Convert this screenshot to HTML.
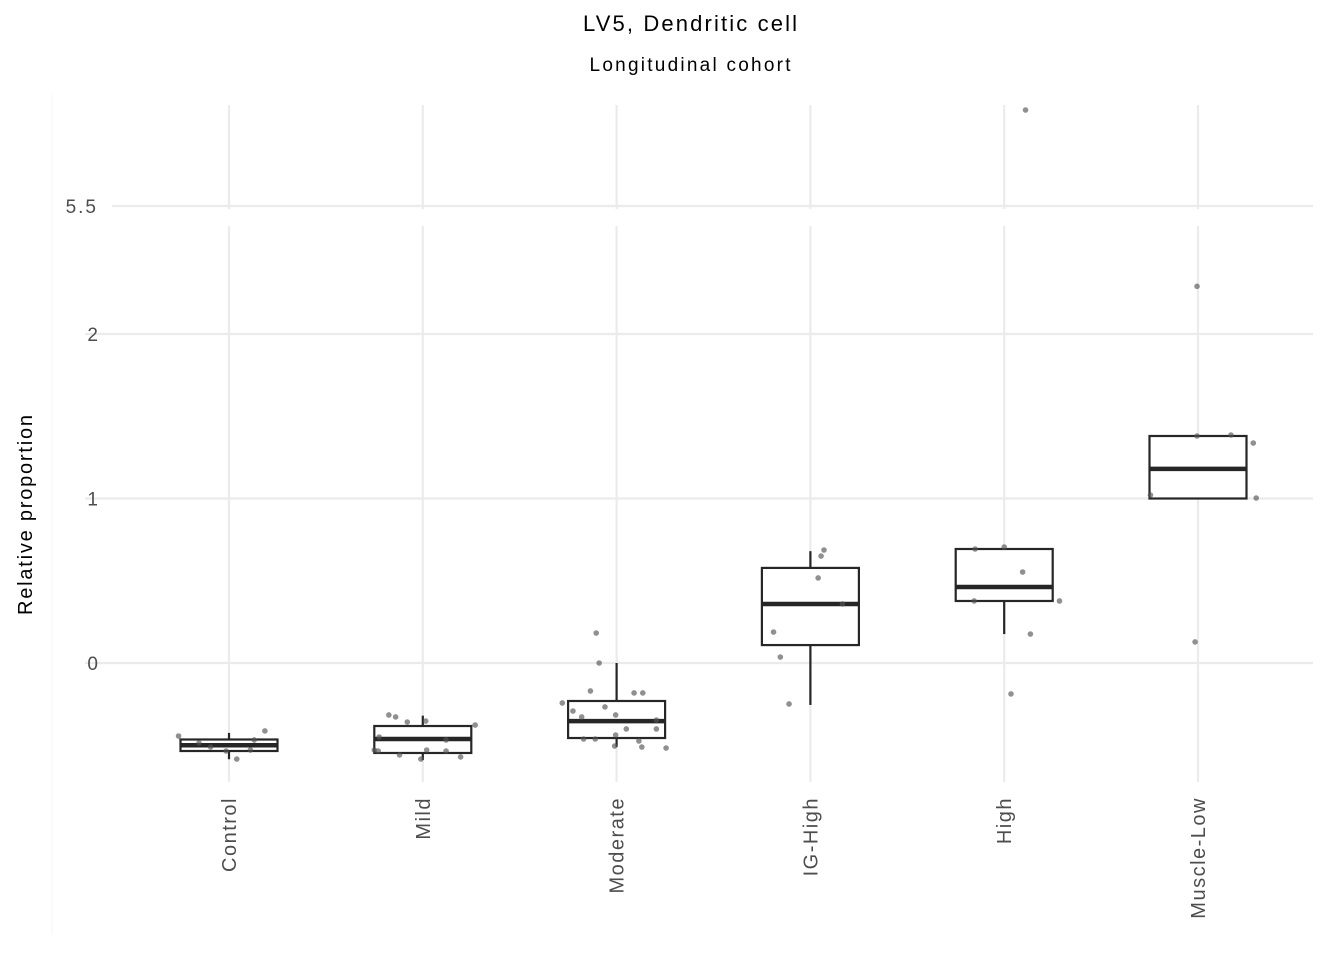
<!DOCTYPE html>
<html><head><meta charset="utf-8"><style>
body{margin:0;background:#fff}
svg text{font-family:"Liberation Sans",Arial,sans-serif}
</style></head><body>
<svg id="c" width="1344" height="960" xmlns="http://www.w3.org/2000/svg">
<text x="690" y="31" text-anchor="middle" font-size="22" textLength="214" fill="#000">LV5, Dendritic cell</text>
<text x="690" y="71" text-anchor="middle" font-size="19" textLength="201" fill="#000">Longitudinal cohort</text>
<line x1="52" y1="95" x2="52" y2="935" stroke="#f6f6f6" stroke-width="1"/>
<text transform="translate(32,515) rotate(-90)" text-anchor="middle" font-size="20" textLength="200" fill="#000">Relative proportion</text>
<g id="grid"></g><g id="marks"></g>
</svg>
<script>
const categories=["Control","Mild","Moderate","IG-High","High","Muscle-Low"];
const lowTicks=[0,1,2];
const lowTickLabels=["0","1","2"];
const highTicks=[5.5];
const highTickLabels=["5.5"];
const q1=[-0.535,-0.547,-0.456,0.109,0.377,1.0];
const med=[-0.50,-0.462,-0.353,0.359,0.462,1.18];
const q3=[-0.465,-0.383,-0.231,0.578,0.693,1.38];
const wlo=[-0.585,-0.59,-0.51,-0.255,0.176,1.0];
const whi=[-0.425,-0.32,0,0.68,0.693,1.38];
const ptCat=[0,0,0,0,0,0,0,0, 1,1,1,1,1,1,1,1,1,1,1,1,1,1, 2,2,2,2,2,2,2,2,2,2,2,2,2,2,2,2,2,2,2,2, 3,3,3,3,3,3,3, 4,4,4,4,4,4,4,4, 5,5,5,5,5,5,5];
const ptJit=[-0.52,-0.31,0.37,0.08,0.26,0.22,-0.03,-0.19, -0.5,-0.45,-0.35,-0.28,-0.16,0.03,-0.46,-0.24,-0.02,0.04,0.24,0.39,0.54,0.24, -0.21,-0.18,-0.27,-0.56,-0.45,-0.36,-0.12,-0.01,0.18,0.27,0.41,0.41,0.23,-0.02,0.26,0.51,-0.34,-0.22,-0.01,0.1, 0.14,0.11,0.08,0.33,-0.38,-0.31,-0.22, -0.3,0,0.19,-0.31,0.57,0.27,0.07,0.22, -0.01,0.34,0.57,-0.49,0.6,-0.03,-0.01];
const ptVal=[-0.444,-0.486,-0.413,-0.584,-0.468,-0.529,-0.535,-0.511, -0.529,-0.45,-0.316,-0.328,-0.359,-0.353,-0.535,-0.559,-0.584,-0.529,-0.535,-0.571,-0.377,-0.468, 0.182,0,-0.17,-0.243,-0.292,-0.328,-0.267,-0.316,-0.182,-0.182,-0.347,-0.401,-0.474,-0.505,-0.511,-0.517,-0.462,-0.462,-0.438,-0.401, 0.687,0.65,0.517,0.359,0.188,0.036,-0.249, 0.693,0.705,0.553,0.377,0.377,0.176,-0.188,5.9, 2.29,1.386,1.337,1.021,1.003,0.128,1.38];
const NS="http://www.w3.org/2000/svg";
const BREAK=4;
function y(v){return v<BREAK?663-v*164.5:206-(v-5.5)*240;}
function x(i){return 229+i*193.8;}
const bw=97;
function mk(p,tag,a){const e=document.createElementNS(NS,tag);for(const k in a)e.setAttribute(k,a[k]);p.appendChild(e);return e;}
const g=document.getElementById('grid'),m=document.getElementById('marks');
lowTicks.forEach((t,i)=>{
 const l=mk(g,'line',{x1:85,x2:1313,y1:y(t),y2:y(t),stroke:'#ebebeb','stroke-width':2.2});
 
 const tx=mk(g,'text',{x:98,y:y(t)+7,'text-anchor':'end','font-size':19,fill:'#4d4d4d'});tx.textContent=lowTickLabels[i];
 
});
highTicks.forEach((t,i)=>{
 const l=mk(g,'line',{x1:112,x2:1313,y1:y(t),y2:y(t),stroke:'#ebebeb','stroke-width':2.2});
 
 const tx=mk(g,'text',{x:98,y:y(t)+7,'text-anchor':'end','font-size':19,'letter-spacing':2,fill:'#4d4d4d'});tx.textContent=highTickLabels[i];
 
});
categories.forEach((c,i)=>{
 const cx=x(i);
 const a=mk(g,'line',{x1:cx,x2:cx,y1:105,y2:209,stroke:'#ebebeb','stroke-width':2.2});
 
 const b=mk(g,'line',{x1:cx,x2:cx,y1:226,y2:782,stroke:'#ebebeb','stroke-width':2.2});
 
 const t=mk(g,'text',{transform:`translate(${cx+7},797) rotate(-90)`,'text-anchor':'end','font-size':20,'letter-spacing':1.5,fill:'#4d4d4d'});t.textContent=c;
 
 const w1=mk(m,'line',{x1:cx,x2:cx,y1:y(q3[i]),y2:y(whi[i]),stroke:'#262626','stroke-width':2.2});
 
 const w2=mk(m,'line',{x1:cx,x2:cx,y1:y(q1[i]),y2:y(wlo[i]),stroke:'#262626','stroke-width':2.2});
 
 const r=mk(m,'rect',{x:cx-bw/2,y:y(q3[i]),width:bw,height:y(q1[i])-y(q3[i]),fill:'#fff',stroke:'#262626','stroke-width':2.2});
 
 const md=mk(m,'line',{x1:cx-bw/2,x2:cx+bw/2,y1:y(med[i]),y2:y(med[i]),stroke:'#262626','stroke-width':4.5});
 
});
ptVal.forEach((v,k)=>{
 const p=mk(m,'circle',{cx:x(ptCat[k])+ptJit[k]*bw,cy:y(v),r:2.8,fill:'#555','fill-opacity':0.65});
 
});
</script>
</body></html>
